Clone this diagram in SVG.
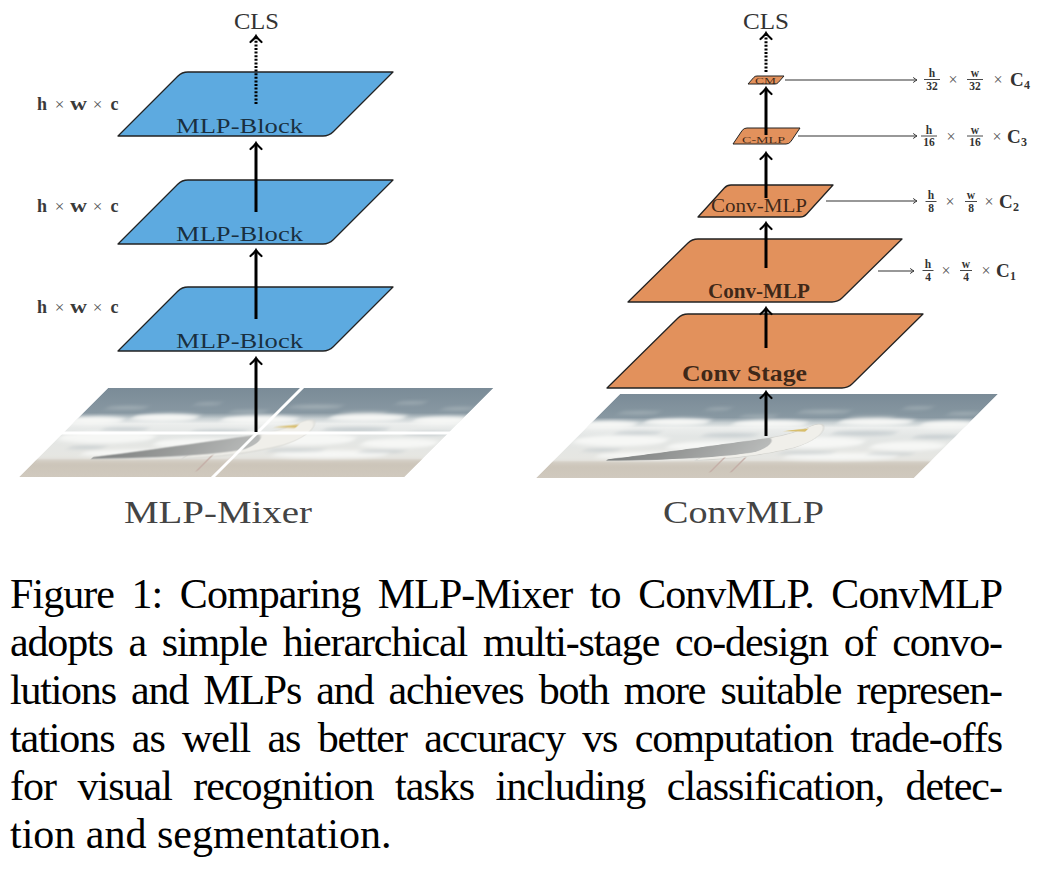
<svg xmlns="http://www.w3.org/2000/svg" width="1045" height="871" viewBox="0 0 1045 871">
<style>
.blk{stroke:#222;stroke-width:1.3;stroke-linejoin:round}
.sm{stroke-width:1}
.blue{fill:#5DAAE0}
.orange{fill:#E2915C}
.lbl{font-family:"Liberation Serif","Times New Roman",serif;fill:#000;fill-opacity:0.74;text-anchor:middle}
.ttl{font-family:"Liberation Serif","Times New Roman",serif;fill:#444;text-anchor:middle}
.cls{font-family:"Liberation Serif","Times New Roman",serif;fill:#333;font-size:23px;text-anchor:middle}
.thick{stroke:#000;stroke-width:3;fill:none;marker-end:url(#ah)}
.dot{stroke:#000;stroke-width:3;fill:none;stroke-dasharray:2 1.6;marker-end:url(#ah)}
.thin{stroke:#333;stroke-width:1.1;fill:none;marker-end:url(#ahs)}
.dim{font-family:"Liberation Serif","Times New Roman",serif;font-weight:bold;fill:#333;text-anchor:middle}
.num{font-size:11.5px}
.big{font-size:19px;text-anchor:start}
.sub{font-size:12px;text-anchor:start}
.x{font-family:"Liberation Serif","Times New Roman",serif;fill:#555;font-size:16px;text-anchor:middle}
.bar{stroke:#333;stroke-width:0.9}
.hw{font-family:"Liberation Serif","Times New Roman",serif;font-weight:bold;fill:#3a3a3a;font-size:18px;text-anchor:middle}
.hx{font-family:"Liberation Serif","Times New Roman",serif;fill:#555;font-size:17px;text-anchor:middle}
.cap{font-family:"Liberation Serif","Times New Roman",serif;font-size:42px;fill:#000}
.cut{stroke:#fff;stroke-width:3;fill:none}
</style>
<defs>
<marker id="ah" markerUnits="userSpaceOnUse" markerWidth="16" markerHeight="16" refX="-1.5" refY="0" viewBox="-8 -8 10 16" orient="auto">
<path d="M-6,-5.5 Q-2.5,-1.5 0,0 Q-2.5,1.5 -6,5.5" fill="none" stroke="#000" stroke-width="2.2" stroke-linecap="round"/>
</marker>
<marker id="ahs" markerUnits="userSpaceOnUse" markerWidth="8" markerHeight="8" refX="-0.5" refY="0" viewBox="-5 -4 6 8" orient="auto">
<path d="M-3.5,-2.3 Q-1.2,-0.6 0,0 Q-1.2,0.6 -3.5,2.3" fill="none" stroke="#333" stroke-width="1" stroke-linecap="round"/>
</marker>
<clipPath id="pc"><rect x="0" y="0" width="400" height="90"/></clipPath>
<linearGradient id="pg" x1="0" y1="0" x2="0" y2="1">
<stop offset="0" stop-color="#7a8b97"/>
<stop offset="0.28" stop-color="#8898a2"/>
<stop offset="0.34" stop-color="#c6ced1"/>
<stop offset="0.4" stop-color="#eceeed"/>
<stop offset="0.5" stop-color="#e3e6e5"/>
<stop offset="0.79" stop-color="#e6e6e2"/>
<stop offset="0.82" stop-color="#cbc4b8"/>
<stop offset="1" stop-color="#d0c9be"/>
</linearGradient>
<linearGradient id="wg" x1="0" y1="0" x2="1" y2="0">
<stop offset="0" stop-color="#7c7f7f"/>
<stop offset="0.5" stop-color="#9a9c9b"/>
<stop offset="1" stop-color="#b9bbba"/>
</linearGradient>
<filter id="soft" x="-5%" y="-30%" width="110%" height="160%"><feGaussianBlur stdDeviation="2"/></filter>
<filter id="soft2" x="-5%" y="-30%" width="110%" height="160%"><feGaussianBlur stdDeviation="0.6"/></filter>
<g id="photo">
<g clip-path="url(#pc)">
<rect width="400" height="90" fill="url(#pg)"/>
<g filter="url(#soft)">
<g fill="#a9b5bb" opacity="0.9">
<ellipse cx="40" cy="20" rx="22" ry="1.5"/>
<ellipse cx="120" cy="16" rx="14" ry="1.2"/>
<ellipse cx="235" cy="19" rx="28" ry="1.8"/>
<ellipse cx="330" cy="15" rx="16" ry="1.3"/>
<ellipse cx="385" cy="21" rx="18" ry="1.5"/>
<ellipse cx="170" cy="24" rx="20" ry="1.5"/>
<ellipse cx="290" cy="25" rx="25" ry="1.6"/>
</g>
<g fill="#f6f7f5">
<ellipse cx="20" cy="33" rx="30" ry="4"/>
<ellipse cx="90" cy="30" rx="35" ry="4"/>
<ellipse cx="190" cy="32" rx="40" ry="4"/>
<ellipse cx="300" cy="30" rx="40" ry="4"/>
<ellipse cx="380" cy="33" rx="30" ry="4"/>
<ellipse cx="50" cy="50" rx="50" ry="6"/>
<ellipse cx="150" cy="56" rx="45" ry="5"/>
<ellipse cx="260" cy="52" rx="50" ry="6"/>
<ellipse cx="360" cy="56" rx="40" ry="5"/>
<ellipse cx="100" cy="66" rx="60" ry="4"/>
<ellipse cx="300" cy="67" rx="60" ry="4"/>
</g>
<g fill="#b3bcc1" opacity="0.6">
<ellipse cx="60" cy="42" rx="25" ry="2"/>
<ellipse cx="160" cy="44" rx="30" ry="2"/>
<ellipse cx="300" cy="42" rx="35" ry="2.5"/>
<ellipse cx="380" cy="46" rx="25" ry="2"/>
<ellipse cx="260" cy="63" rx="30" ry="1.5"/>
<ellipse cx="40" cy="60" rx="20" ry="1.5"/>
<ellipse cx="350" cy="64" rx="25" ry="1.5"/>
</g>
<rect x="0" y="72" width="400" height="2.5" fill="#dad6ce"/>
</g>
<g filter="url(#soft2)">
<path d="M150,71 C180,70 215,66 240,58 C255,52 258,42 250,35 C245,31 238,32 234,36 C225,42 212,46 200,48 C180,52 160,60 150,71 Z" fill="#f0efea" stroke="#d2d2cd" stroke-width="0.8"/>
<path d="M56,70 C100,64 160,54 205,47 C213,50 215,57 205,62 C180,68 120,71 56,71.5 Z" fill="url(#wg)"/>
<path d="M236,37 L212,39.5 L236,40.5 Z" fill="#d8be6a"/>
<path d="M178,68 L178,84 M200,68 L200,84" stroke="#c2aaa3" stroke-width="1.8" fill="none"/>
</g>
</g>
</g>
</defs>
<rect width="1045" height="871" fill="#fff"/>

<g id="mixer-image">
<use href="#photo" transform="matrix(0.9638 0 -0.9889 0.9889 108 388)"/>
<line class="cut" x1="0" y1="433" x2="520" y2="433"/>
<line class="cut" x1="305" y1="385" x2="210" y2="480"/>
</g>

<g id="mixer-block-1">
<path class="blk blue" d="M118,136 L177.76,76.24 Q182,72 188,72 L393,72 L333.24,131.76 Q329,136 323,136 Z"/>
<text class="lbl" x="239.5" y="133" font-size="21" textLength="127" lengthAdjust="spacingAndGlyphs">MLP-Block</text>
</g>
<g id="mixer-block-2">
<path class="blk blue" d="M118,244 L177.76,184.24 Q182,180 188,180 L393,180 L333.24,239.76 Q329,244 323,244 Z"/>
<text class="lbl" x="239.5" y="241" font-size="21" textLength="127" lengthAdjust="spacingAndGlyphs">MLP-Block</text>
</g>
<g id="mixer-block-3">
<path class="blk blue" d="M118,351 L177.76,291.24 Q182,287 188,287 L393,287 L333.24,346.76 Q329,351 323,351 Z"/>
<text class="lbl" x="239.5" y="348" font-size="21" textLength="127" lengthAdjust="spacingAndGlyphs">MLP-Block</text>
</g>

<g id="mixer-dims">
<g><text class="hw" x="42" y="110">h</text><text class="hx" x="59.5" y="110">×</text><text class="hw" x="78.5" y="110" textLength="17" lengthAdjust="spacingAndGlyphs">w</text><text class="hx" x="97.5" y="110">×</text><text class="hw" x="114.5" y="110">c</text></g>
<g><text class="hw" x="42" y="212">h</text><text class="hx" x="59.5" y="212">×</text><text class="hw" x="78.5" y="212" textLength="17" lengthAdjust="spacingAndGlyphs">w</text><text class="hx" x="97.5" y="212">×</text><text class="hw" x="114.5" y="212">c</text></g>
<g><text class="hw" x="42" y="313">h</text><text class="hx" x="59.5" y="313">×</text><text class="hw" x="78.5" y="313" textLength="17" lengthAdjust="spacingAndGlyphs">w</text><text class="hx" x="97.5" y="313">×</text><text class="hw" x="114.5" y="313">c</text></g>
</g>

<g id="mixer-cls"><text class="cls" x="256.5" y="29" textLength="45" lengthAdjust="spacingAndGlyphs">CLS</text></g>
<g id="mixer-title"><text class="ttl" x="218" y="523" font-size="32" textLength="188" lengthAdjust="spacingAndGlyphs">MLP-Mixer</text></g>

<g id="convmlp-image">
<use href="#photo" transform="matrix(0.945 0 -0.9333 0.9333 620 394)"/>
</g>

<g id="conv-stage">
<path class="blk orange" d="M607,388 L677.73,318.21 Q682,314 688,314 L923,314 L852.27,383.79 Q848,388 842,388 Z"/>
<text class="lbl" x="744.5" y="381" font-size="23" font-weight="bold" textLength="125" lengthAdjust="spacingAndGlyphs">Conv Stage</text>
</g>
<g id="conv-mlp-1">
<path class="blk orange" d="M628,302 L687.73,243.21 Q692,239 698,239 L902,239 L842.27,297.79 Q838,302 832,302 Z"/>
<text class="lbl" x="759" y="298" font-size="20" font-weight="bold" textLength="102" lengthAdjust="spacingAndGlyphs">Conv-MLP</text>
</g>
<g id="conv-mlp-2">
<path class="blk orange" d="M698,217 L724.32,187.96 Q727,185 731,185 L833,185 L806.68,214.04 Q804,217 800,217 Z"/>
<text class="lbl" x="759" y="212" font-size="18" textLength="96" lengthAdjust="spacingAndGlyphs" fill-opacity="0.8">Conv-MLP</text>
</g>
<g id="conv-mlp-3">
<path class="blk sm orange" d="M733,144 L742.2,130.4 Q744,128 747,128 L800,128 L790.8,141.6 Q789,144 786,144 Z"/>
<text class="lbl" x="763.5" y="143" font-size="9" textLength="43" lengthAdjust="spacingAndGlyphs">C-MLP</text>
</g>
<g id="conv-mlp-4">
<path class="blk sm orange" d="M748,84 L753.8,77.4 Q755,76 757,76 L784,76 L778.2,82.6 Q777,84 775,84 Z"/>
<text class="lbl" x="765.5" y="84" font-size="9" textLength="21" lengthAdjust="spacingAndGlyphs">CM</text>
</g>

<g id="convmlp-cls"><text class="cls" x="766" y="29" textLength="46" lengthAdjust="spacingAndGlyphs">CLS</text></g>
<g id="convmlp-title"><text class="ttl" x="743.5" y="523" font-size="32" textLength="161" lengthAdjust="spacingAndGlyphs">ConvMLP</text></g>

<g id="dim-c4">
<text class="dim num" x="932" y="77">h</text><line class="bar" x1="924" y1="79.5" x2="940" y2="79.5"/><text class="dim num" x="932" y="89.5">32</text>
<text class="x" x="953" y="85">×</text>
<text class="dim num" x="975" y="77">w</text><line class="bar" x1="967" y1="79.5" x2="983" y2="79.5"/><text class="dim num" x="975" y="89.5">32</text>
<text class="x" x="998" y="85">×</text>
<text class="dim big" x="1010" y="86">C</text><text class="dim sub" x="1024" y="89">4</text>
</g>
<g id="dim-c3">
<text class="dim num" x="929" y="133.5">h</text><line class="bar" x1="921" y1="136" x2="937" y2="136"/><text class="dim num" x="929" y="146">16</text>
<text class="x" x="951" y="141.5">×</text>
<text class="dim num" x="975" y="133.5">w</text><line class="bar" x1="967" y1="136" x2="983" y2="136"/><text class="dim num" x="975" y="146">16</text>
<text class="x" x="997" y="141.5">×</text>
<text class="dim big" x="1007" y="142.5">C</text><text class="dim sub" x="1021" y="145.5">3</text>
</g>
<g id="dim-c2">
<text class="dim num" x="931" y="199">h</text><line class="bar" x1="925.5" y1="201.5" x2="936.5" y2="201.5"/><text class="dim num" x="931" y="211.5">8</text>
<text class="x" x="950" y="207">×</text>
<text class="dim num" x="971" y="199">w</text><line class="bar" x1="965" y1="201.5" x2="977" y2="201.5"/><text class="dim num" x="971" y="211.5">8</text>
<text class="x" x="989" y="207">×</text>
<text class="dim big" x="999" y="208">C</text><text class="dim sub" x="1013" y="211">2</text>
</g>
<g id="dim-c1">
<text class="dim num" x="928" y="268">h</text><line class="bar" x1="922.5" y1="270.5" x2="933.5" y2="270.5"/><text class="dim num" x="928" y="280.5">4</text>
<text class="x" x="946" y="276">×</text>
<text class="dim num" x="966" y="268">w</text><line class="bar" x1="960" y1="270.5" x2="972" y2="270.5"/><text class="dim num" x="966" y="280.5">4</text>
<text class="x" x="986" y="276">×</text>
<text class="dim big" x="996" y="277">C</text><text class="dim sub" x="1010" y="280">1</text>
</g>

<g id="connectors">
<line class="dot" x1="256" y1="104" x2="256" y2="37.5"/>
<line class="thick" x1="256" y1="212" x2="256" y2="144.5"/>
<line class="thick" x1="256" y1="319" x2="256" y2="251.5"/>
<line class="thick" x1="256" y1="432" x2="256" y2="359.5"/>
<line class="dot" x1="766" y1="72" x2="766" y2="34.5"/>
<line class="thick" x1="766" y1="135" x2="766" y2="89.5"/>
<line class="thick" x1="766" y1="198" x2="766" y2="154.5"/>
<line class="thick" x1="766" y1="268" x2="766" y2="224.5"/>
<line class="thick" x1="766" y1="348" x2="766" y2="309.5"/>
<line class="thick" x1="766" y1="436" x2="766" y2="393.5"/>
<line class="thin" x1="785" y1="80" x2="916.5" y2="80"/>
<line class="thin" x1="798" y1="136" x2="916.5" y2="136"/>
<line class="thin" x1="826" y1="201" x2="916.5" y2="201"/>
<line class="thin" x1="878" y1="271" x2="913.5" y2="271"/>
</g>

<g id="caption">
<text class="cap" x="10" y="608" word-spacing="8" textLength="993">Figure 1: Comparing MLP-Mixer to ConvMLP. ConvMLP</text>
<text class="cap" x="10" y="656" word-spacing="6.5" textLength="993">adopts a simple hierarchical multi-stage co-design of convo-</text>
<text class="cap" x="10" y="704" word-spacing="6" textLength="993">lutions and MLPs and achieves both more suitable represen-</text>
<text class="cap" x="10" y="752" word-spacing="8" textLength="993">tations as well as better accuracy vs computation trade-offs</text>
<text class="cap" x="10" y="800" word-spacing="12" textLength="993">for visual recognition tasks including classification, detec-</text>
<text class="cap" x="10" y="848">tion and segmentation.</text>
</g>
</svg>
